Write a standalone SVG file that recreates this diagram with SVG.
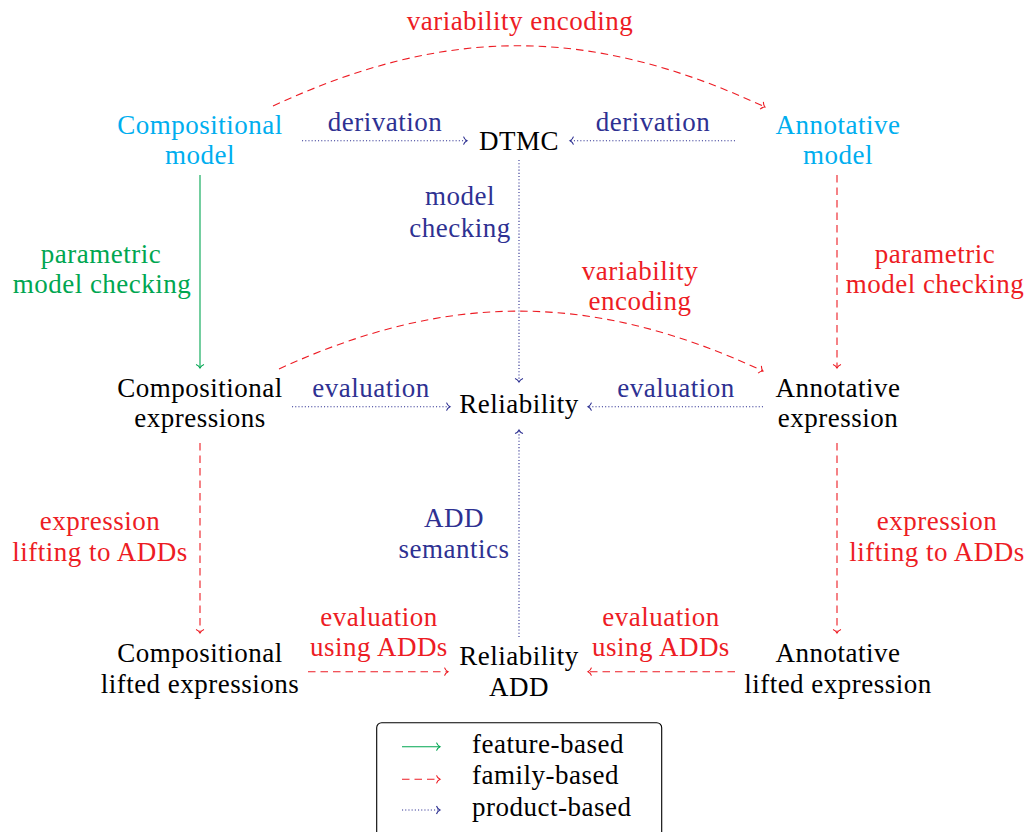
<svg xmlns="http://www.w3.org/2000/svg" width="1027" height="832" viewBox="0 0 1027 832" font-family="Liberation Serif, DejaVu Serif, serif">
  <style>
    text { font-size: 27px; letter-spacing: 0.5px; text-anchor: middle; }
    .blk { fill: #000000; }
    .cyan { fill: #00aeef; }
    .grn { fill: #00a651; }
    .red { fill: #ed1c24; }
    .blu { fill: #2e3192; }
    .feat { fill: none; stroke: #00a651; stroke-width: 1.1; marker-end: url(#tipG); }
    .fam { fill: none; stroke: #ed1c24; stroke-width: 1.1; stroke-dasharray: 7.5 5; marker-end: url(#tipR); }
    .prod { fill: none; stroke: #2e3192; stroke-width: 1.1; stroke-dasharray: 1.1 2.1; marker-end: url(#tipB); }
    .leg { text-anchor: start; }
  </style>
  <defs>
    <marker id="tipG" markerUnits="userSpaceOnUse" markerWidth="10" markerHeight="10" refX="0" refY="0" orient="auto" overflow="visible">
      <path d="M-3.5,-4 C-2.8,-1.8 -1,-0.5 0,0 C-1,0.5 -2.8,1.8 -3.5,4" fill="none" stroke="#00a651" stroke-width="1.1"/>
    </marker>
    <marker id="tipR" markerUnits="userSpaceOnUse" markerWidth="10" markerHeight="10" refX="0" refY="0" orient="auto" overflow="visible">
      <path d="M-3.5,-4 C-2.8,-1.8 -1,-0.5 0,0 C-1,0.5 -2.8,1.8 -3.5,4" fill="none" stroke="#ed1c24" stroke-width="1.1"/>
    </marker>
    <marker id="tipB" markerUnits="userSpaceOnUse" markerWidth="10" markerHeight="10" refX="0" refY="0" orient="auto" overflow="visible">
      <path d="M-3.5,-4 C-2.8,-1.8 -1,-0.5 0,0 C-1,0.5 -2.8,1.8 -3.5,4" fill="none" stroke="#2e3192" stroke-width="1.1"/>
    </marker>
  </defs>

  <rect width="1027" height="832" fill="#ffffff"/>

  <!-- nodes -->
  <g id="comp-model" class="cyan">
    <text x="200" y="134">Compositional</text>
    <text x="200" y="164">model</text>
  </g>
  <g id="dtmc" class="blk">
    <text x="519" y="150">DTMC</text>
  </g>
  <g id="ann-model" class="cyan">
    <text x="838" y="134">Annotative</text>
    <text x="838" y="164">model</text>
  </g>
  <g id="comp-expr" class="blk">
    <text x="200" y="397">Compositional</text>
    <text x="200" y="427">expressions</text>
  </g>
  <g id="reliability" class="blk">
    <text x="519" y="413">Reliability</text>
  </g>
  <g id="ann-expr" class="blk">
    <text x="838" y="397">Annotative</text>
    <text x="838" y="427">expression</text>
  </g>
  <g id="comp-lifted" class="blk">
    <text x="200" y="662">Compositional</text>
    <text x="200" y="693">lifted expressions</text>
  </g>
  <g id="rel-add" class="blk">
    <text x="519" y="665">Reliability</text>
    <text x="519" y="696">ADD</text>
  </g>
  <g id="ann-lifted" class="blk">
    <text x="838" y="662">Annotative</text>
    <text x="838" y="693">lifted expression</text>
  </g>

  <!-- connectors -->
  <g id="connectors">
    <path class="fam" d="M273,106 C448,25 590,26 765,107"/>
    <path class="prod" d="M302,140.7 H467"/>
    <path class="prod" d="M735,140.7 H570"/>
    <path class="prod" d="M519,160 V382"/>
    <path class="feat" d="M200,175 V368"/>
    <path class="fam" d="M837,175 V368"/>
    <path class="fam" d="M279,369 C449,291 593,292 763,371"/>
    <path class="prod" d="M292,406.7 H450"/>
    <path class="prod" d="M763,406.7 H588"/>
    <path class="fam" d="M200,443 V633"/>
    <path class="fam" d="M837,443 V633"/>
    <path class="fam" d="M308,671.7 H448"/>
    <path class="fam" d="M735,671.7 H588"/>
    <path class="prod" d="M519,637 V430"/>
  </g>

  <!-- edge labels -->
  <g id="edge-labels">
    <text class="red" x="520" y="30">variability encoding</text>
    <text class="blu" x="385" y="131">derivation</text>
    <text class="blu" x="653" y="131">derivation</text>
    <text class="blu" x="460" y="205">model</text>
    <text class="blu" x="460" y="237">checking</text>
    <text class="grn" x="101" y="263">parametric</text>
    <text class="grn" x="102" y="293">model checking</text>
    <text class="red" x="935" y="263">parametric</text>
    <text class="red" x="935" y="293">model checking</text>
    <text class="red" x="640" y="280">variability</text>
    <text class="red" x="640" y="310">encoding</text>
    <text class="blu" x="371" y="397">evaluation</text>
    <text class="blu" x="676" y="397">evaluation</text>
    <text class="red" x="100" y="530">expression</text>
    <text class="red" x="100" y="561">lifting to ADDs</text>
    <text class="red" x="937" y="530">expression</text>
    <text class="red" x="937" y="561">lifting to ADDs</text>
    <text class="blu" x="454" y="527">ADD</text>
    <text class="blu" x="454" y="558">semantics</text>
    <text class="red" x="379" y="626">evaluation</text>
    <text class="red" x="379" y="656">using ADDs</text>
    <text class="red" x="661" y="626">evaluation</text>
    <text class="red" x="661" y="656">using ADDs</text>
  </g>

  <!-- legend -->
  <g id="legend">
    <rect x="376.7" y="722.7" width="285" height="125" rx="5" fill="none" stroke="#000000" stroke-width="1.1"/>
    <path class="feat" d="M402,746.7 H440"/>
    <path class="fam" d="M402,779.3 H440"/>
    <path class="prod" d="M402,810 H440"/>
    <text class="blk leg" x="472" y="753">feature-based</text>
    <text class="blk leg" x="472" y="784">family-based</text>
    <text class="blk leg" x="472" y="816">product-based</text>
  </g>
</svg>
